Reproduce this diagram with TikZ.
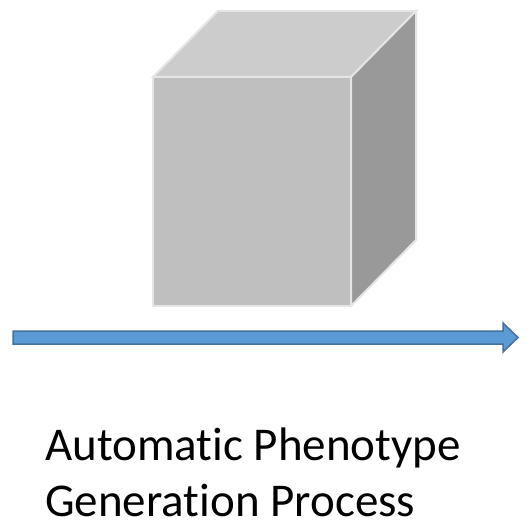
\documentclass[tikz,border=0pt]{standalone}
\usepackage{fontspec}
\setmainfont{Carlito}[Ligatures=NoCommon]
\begin{document}
\begin{tikzpicture}[x=1pt,y=-1pt,
  cubeedge/.style={draw=black!10, line width=2pt, line join=miter},
  flowarrow/.style={fill=arrowblue, draw=arrowedge, line width=1.5pt, line join=miter},
  caption/.style={font=\fontsize{47}{56}\selectfont, anchor=base west, inner sep=0pt}]
\definecolor{arrowblue}{HTML}{5B9BD5}
\definecolor{arrowedge}{HTML}{41719C}
\useasboundingbox (0,0) rectangle (527,521);
% cube: front, top and right faces
\coordinate (fbl) at (153,306);
\coordinate (fbr) at (351,306);
\coordinate (ftl) at (153,77);
\coordinate (ftr) at (351,77);
\coordinate (btl) at (218,11);
\coordinate (btr) at (416,11);
\coordinate (bbr) at (416,240);
\fill[fill=black!25, cubeedge] (fbl) -- (fbr) -- (ftr) -- (ftl) -- cycle;
\fill[fill=black!20, cubeedge] (ftl) -- (ftr) -- (btr) -- (btl) -- cycle;
\fill[fill=black!40, cubeedge] (fbr) -- (bbr) -- (btr) -- (ftr) -- cycle;
% block arrow along the process
\filldraw[flowarrow] (13,331) -- (503,331) -- (503,323) -- (518,337.5) -- (503,352) -- (503,344) -- (13,344) -- cycle;
% caption, two lines
\node[caption] (label1) at (45,460.5) {Automatic Phenotype};
\node[caption] (label2) at (45,516.5) {Generation Process};
\end{tikzpicture}
\end{document}
